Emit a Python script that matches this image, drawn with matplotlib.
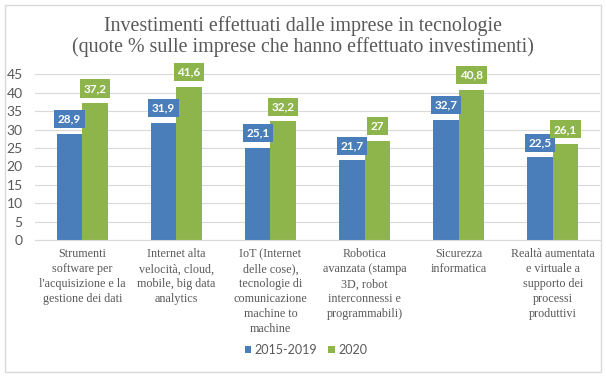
import matplotlib
matplotlib.use("Agg")
import matplotlib.pyplot as plt
import numpy as np
from matplotlib.patches import Rectangle

categories = [
    "Strumenti\nsoftware per\nl'acquisizione e la\ngestione dei dati",
    "Internet alta\nvelocità, cloud,\nmobile, big data\nanalytics",
    "IoT (Internet\ndelle cose),\ntecnologie di\ncomunicazione\nmachine to\nmachine",
    "Robotica\navanzata (stampa\n3D, robot\ninterconnessi e\nprogrammabili)",
    "Sicurezza\ninformatica",
    "Realtà aumentata\ne virtuale a\nsupporto dei\nprocessi\nproduttivi",
]
series_names = ["2015-2019", "2020"]
values_2015_2019 = [28.9, 31.9, 25.1, 21.7, 32.7, 22.5]
values_2020 = [37.2, 41.6, 32.2, 27.0, 40.8, 26.1]
label_2015_2019 = ["28,9", "31,9", "25,1", "21,7", "32,7", "22,5"]
label_2020 = ["37,2", "41,6", "32,2", "27", "40,8", "26,1"]
yticks = [0, 5, 10, 15, 20, 25, 30, 35, 40, 45]

blue = "#4a7ebb"
green = "#8db54b"
gray = "#595959"
serif = ['Liberation Serif', 'DejaVu Serif']
sans = ['Lato', 'DejaVu Sans']

plt.rcParams['font.family'] = serif

fig = plt.figure(figsize=(6.06, 3.77), dpi=100)
fig.patches.append(Rectangle((0.008, 0.013), 0.984, 0.975, transform=fig.transFigure,
                             fill=False, edgecolor="#d9d9d9", linewidth=1))

ax = fig.add_axes([0.058, 0.363, 0.932, 0.44])
x = np.arange(len(categories))
w = 0.27
b1 = ax.bar(x - w / 2, values_2015_2019, w, color=blue, label=series_names[0])
b2 = ax.bar(x + w / 2, values_2020, w, color=green, label=series_names[1])

for bars, labels, col in ((b1, label_2015_2019, blue), (b2, label_2020, green)):
    for bar, lab in zip(bars, labels):
        ax.annotate(lab, (bar.get_x() + bar.get_width() / 2, bar.get_height()),
                    xytext=(0, 6.5), textcoords="offset points", ha="center", va="bottom",
                    color="white", fontsize=8.5, fontweight="bold", family=sans,
                    bbox=dict(boxstyle="square,pad=0.3", fc=col, ec="none"))

ax.set_ylim(0, 45)
ax.set_xlim(-0.5, len(categories) - 0.5)
ax.set_yticks(yticks)
ax.set_yticklabels([str(t) for t in yticks], family=sans)
ax.yaxis.grid(True, color="#d9d9d9", linewidth=0.8)
ax.set_axisbelow(True)
for s in ("top", "right", "left"):
    ax.spines[s].set_visible(False)
ax.spines["bottom"].set_color("#d9d9d9")
ax.tick_params(axis="both", length=0, colors=gray, labelsize=10)
ax.tick_params(axis="y", pad=9)
ax.set_xticks(x)
ax.set_xticklabels(categories, fontsize=8.7, color=gray, linespacing=1.32)
ax.tick_params(axis="x", pad=6)

fig.text(0.5, 0.903, "Investimenti effettuati dalle imprese in tecnologie\n(quote % sulle imprese che hanno effettuato investimenti)",
         ha="center", va="center", fontsize=14.4, color=gray, linespacing=1.12)

fig.legend(handles=[b1, b2], labels=series_names, loc="center", bbox_to_anchor=(0.505, 0.072),
           ncol=2, frameon=False, prop={'family': sans, 'size': 9}, handlelength=0.55,
           handleheight=0.55, handletextpad=0.25, columnspacing=0.9, labelcolor=gray)

fig.savefig("out.png", dpi=100)
